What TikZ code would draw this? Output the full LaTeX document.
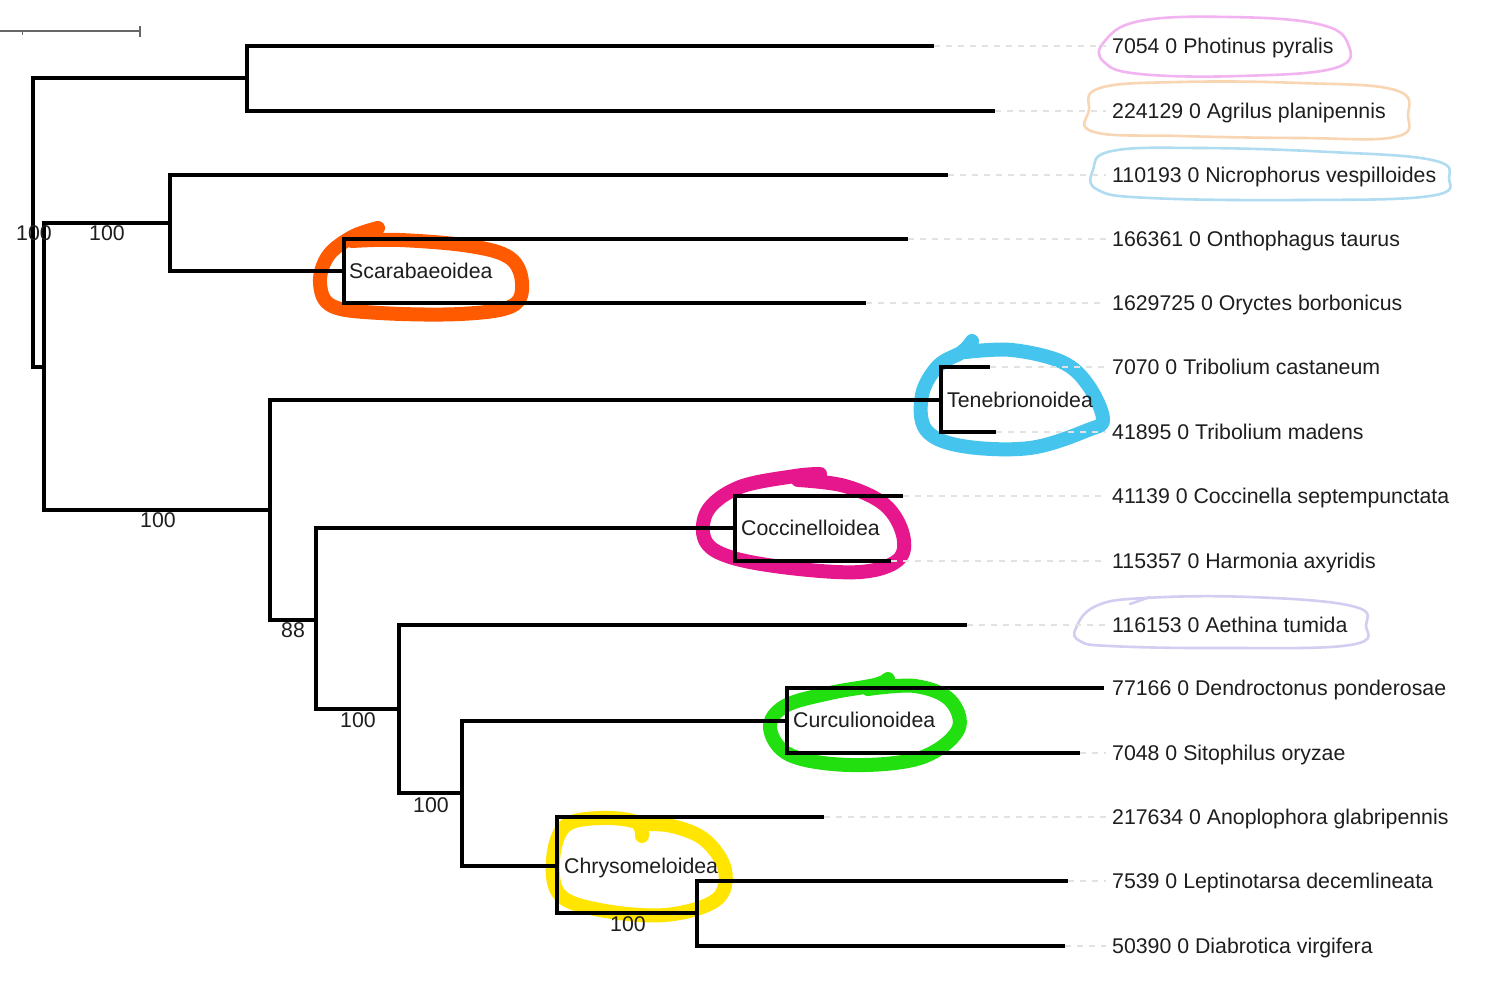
\documentclass[tikz,border=0pt]{standalone}
\usepackage{fontspec}
\setmainfont{Liberation Sans}
\definecolor{txt}{HTML}{1E1E1E}
\definecolor{leadgray}{HTML}{E2E2E2}
\definecolor{barg}{HTML}{666666}
\definecolor{hlorange}{HTML}{FF5A00}
\definecolor{hlblue}{HTML}{45C5EE}
\definecolor{hlpink}{HTML}{E6168C}
\definecolor{hlgreen}{HTML}{22E010}
\definecolor{hlyellow}{HTML}{FFE500}
\definecolor{thpink}{HTML}{F2B4F0}
\definecolor{thorange}{HTML}{F8D6B4}
\definecolor{thblue}{HTML}{B0DCF2}
\definecolor{thlav}{HTML}{D2CEF2}
\begin{document}
\begin{tikzpicture}[x=1pt,y=-1pt,
  branch/.style={line width=3.2pt,draw=black,line join=miter},
  leader/.style={draw=leadgray,line width=1.1pt,dash pattern=on 6pt off 6pt},
  leaf/.style={anchor=base west,inner sep=0pt,font=\fontsize{21.3}{25}\selectfont,text=txt},
  boot/.style={anchor=base,inner sep=0pt,font=\fontsize{21.3}{25}\selectfont,text=txt},
  clade/.style={anchor=base west,inner sep=0pt,font=\fontsize{21.3}{25}\selectfont,text=txt},
  hl/.style={line width=14pt,line cap=round,line join=round},
  thin/.style={line width=2.6pt,line cap=round}]
\useasboundingbox (0,0) rectangle (1485,993);
\fill[white] (0,0) rectangle (1485,993);

% hand-drawn highlights
\draw[hl,hlorange] plot[smooth,tension=0.6] coordinates {(378,228) (352,237) (328,256) (320,283) (332,306) (380,313) (460,314) (512,306) (522,283) (510,258) (470,246) (400,240) (352,241)};
\draw[hl,hlblue] plot[smooth,tension=0.6] coordinates {(972,341) (962,352) (938,366) (922,395) (926,430) (962,446) (1030,448) (1088,430) (1103,419) (1088,385) (1062,362) (1012,350) (966,352)};
\draw[hl,hlpink] plot[smooth,tension=0.6] coordinates {(820,474) (795,476) (740,487) (708,510) (705,540) (730,557) (790,568) (860,572) (898,560) (903,535) (885,505) (845,486) (798,480)};
\draw[hl,hlgreen] plot[smooth,tension=0.6] coordinates {(888,679) (875,685) (830,693) (785,706) (770,728) (790,755) (850,765) (920,758) (958,730) (950,700) (915,686) (868,689)};
\draw[hl,hlyellow] plot[smooth,tension=0.6] coordinates {(642,836) (636,822) (600,818) (565,826) (553,860) (560,895) (600,910) (665,915) (716,900) (725,870) (705,840) (672,826) (640,824)};

\draw[thin,thpink] plot[smooth cycle,tension=0.7] coordinates {(1104,42) (1140,21) (1230,17) (1318,24) (1348,44) (1335,68) (1240,76) (1140,74) (1104,62)};
\draw[thin,thorange] plot[smooth cycle,tension=0.7] coordinates {(1089,110) (1100,88) (1180,82) (1300,83) (1395,90) (1408,115) (1395,137) (1300,138) (1180,136) (1094,132)};
\draw[thin,thblue] plot[smooth cycle,tension=0.7] coordinates {(1093,170) (1112,151) (1200,148) (1330,152) (1432,160) (1449,178) (1430,196) (1300,200) (1150,198) (1098,190)};
\draw[thin,thlav] plot[smooth cycle,tension=0.7] coordinates {(1076,628) (1096,606) (1145,598) (1250,597) (1352,606) (1366,625) (1350,645) (1220,648) (1110,646) (1080,641)};
\draw[thin,thlav] (1130,604) -- (1150,597);

% scale bar
\coordinate (sb0) at (0,31);
\coordinate (sb1) at (140,31);
\draw[barg,line width=1.2pt] (sb0) -- (sb1);
\draw[barg,line width=1.2pt] (140,26) -- (140,37);
\draw[barg,line width=1pt] (22,31) -- (22,35);

% leaf labels
\node[leaf] (L1) at (1112,53.5) {7054 0 Photinus pyralis};
\node[leaf] (L2) at (1112,118.5) {224129 0 Agrilus planipennis};
\node[leaf] (L3) at (1112,182.5) {110193 0 Nicrophorus vespilloides};
\node[leaf] (L4) at (1112,246.5) {166361 0 Onthophagus taurus};
\node[leaf] (L5) at (1112,310.5) {1629725 0 Oryctes borbonicus};
\node[leaf] (L6) at (1112,374.5) {7070 0 Tribolium castaneum};
\node[leaf] (L7) at (1112,439.5) {41895 0 Tribolium madens};
\node[leaf] (L8) at (1112,503.5) {41139 0 Coccinella septempunctata};
\node[leaf] (L9) at (1112,568.5) {115357 0 Harmonia axyridis};
\node[leaf] (L10) at (1112,632.5) {116153 0 Aethina tumida};
\node[leaf] (L11) at (1112,695.5) {77166 0 Dendroctonus ponderosae};
\node[leaf] (L12) at (1112,760.5) {7048 0 Sitophilus oryzae};
\node[leaf] (L13) at (1112,824.5) {217634 0 Anoplophora glabripennis};
\node[leaf] (L14) at (1112,888.5) {7539 0 Leptinotarsa decemlineata};
\node[leaf] (L15) at (1112,953.5) {50390 0 Diabrotica virgifera};

% tips
\coordinate (T1) at (934,46);
\coordinate (T2) at (995,111);
\coordinate (T3) at (948,175);
\coordinate (T4) at (908,239);
\coordinate (T5) at (866,303);
\coordinate (T6) at (990,367);
\coordinate (T7) at (996,432);
\coordinate (T8) at (903,496);
\coordinate (T9) at (891,561);
\coordinate (T10) at (967,625);
\coordinate (T11) at (1104,688);
\coordinate (T12) at (1080,753);
\coordinate (T13) at (824,817);
\coordinate (T14) at (1068,881);
\coordinate (T15) at (1065,946);

% leader lines
\foreach \i/\y in {1/46,2/111,3/175,4/239,5/303,6/367,7/432,8/496,9/561,10/625,12/753,13/817,14/881,15/946}
  \draw[leader] (T\i) -- (1106,\y);

% internal nodes
\coordinate (rt) at (33,222);
\coordinate (n1) at (247,78);
\coordinate (n2) at (44,367);
\coordinate (n3) at (170,223);
\coordinate (n4) at (344,271);
\coordinate (n6) at (270,510);
\coordinate (n7) at (941,400);
\coordinate (n8) at (316,620);
\coordinate (n9) at (735,528);
\coordinate (n10) at (399,709);
\coordinate (n11) at (462,793);
\coordinate (n12) at (787,721);
\coordinate (n13) at (557,866);
\coordinate (n14) at (697,913);

\draw[branch] (rt) |- (n1);
\draw[branch] (rt) |- (n2);
\draw[branch] (n1) |- (T1);
\draw[branch] (n1) |- (T2);
\draw[branch] (n2) |- (n3);
\draw[branch] (n2) |- (n6);
\draw[branch] (n3) |- (T3);
\draw[branch] (n3) |- (n4);
\draw[branch] (n4) |- (T4);
\draw[branch] (n4) |- (T5);
\draw[branch] (n6) |- (n7);
\draw[branch] (n6) |- (n8);
\draw[branch] (n7) |- (T6);
\draw[branch] (n7) |- (T7);
\draw[branch] (n8) |- (n9);
\draw[branch] (n8) |- (n10);
\draw[branch] (n9) |- (T8);
\draw[branch] (n9) |- (T9);
\draw[branch] (n10) |- (T10);
\draw[branch] (n10) |- (n11);
\draw[branch] (n11) |- (n12);
\draw[branch] (n11) |- (n13);
\draw[branch] (n12) |- (T11);
\draw[branch] (n12) |- (T12);
\draw[branch] (n13) |- (T13);
\draw[branch] (n13) |- (n14);
\draw[branch] (n14) |- (T14);
\draw[branch] (n14) |- (T15);

% bootstrap values
\node[boot] (b1) at (34,240.5) {100};
\node[boot] (b2) at (107,240.5) {100};
\node[boot] (b3) at (158,527.5) {100};
\node[boot] (b4) at (293,637) {88};
\node[boot] (b5) at (358,727.5) {100};
\node[boot] (b6) at (431,812) {100};
\node[boot] (b7) at (628,931.5) {100};

% clade labels
\node[clade] (c1) at (349,278.5) {Scarabaeoidea};
\node[clade] (c2) at (947,407.5) {Tenebrionoidea};
\node[clade] (c3) at (741,535.5) {Coccinelloidea};
\node[clade] (c4) at (793,727.5) {Curculionoidea};
\node[clade] (c5) at (564,873.5) {Chrysomeloidea};
\end{tikzpicture}
\end{document}
